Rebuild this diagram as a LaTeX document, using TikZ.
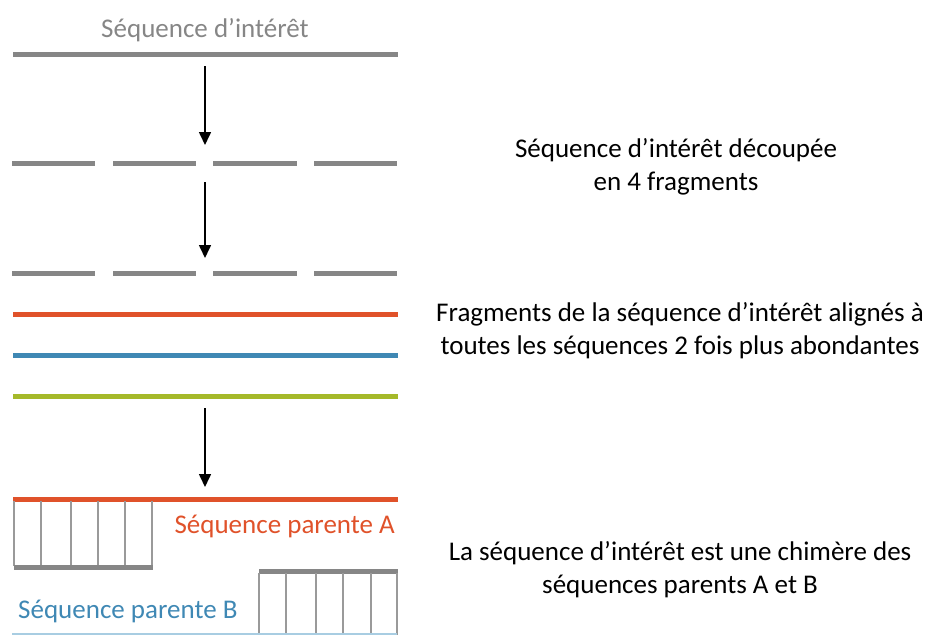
\documentclass[tikz,border=0pt]{standalone}
\usepackage{fontspec}
\setmainfont{Carlito}
\usetikzlibrary{arrows.meta}
\definecolor{sgray}{HTML}{868686}
\definecolor{sorange}{HTML}{E0522A}
\definecolor{sblue}{HTML}{3F88B4}
\definecolor{sgreen}{HTML}{A5B92A}
\definecolor{slblue}{HTML}{A8CDE2}
\definecolor{sbox}{HTML}{9A9A9A}
\begin{document}
\begin{tikzpicture}[x=1pt,y=-1pt,
  seqline/.style={line width=5pt},
  frag/.style={seqline,sgray},
  flow/.style={line width=1.6pt,-{Triangle[length=13pt,width=12pt]}},
  divider/.style={line width=1.2pt,sbox},
  lbl/.style={font=\fontsize{27}{32.5}\selectfont,align=center,inner sep=0pt,anchor=base},
  side/.style={lbl}]
\useasboundingbox (0,0) rectangle (927,635);
% title
\node[lbl,text=sgray] (title) at (205,37) {Séquence d’intérêt};
\draw[frag] (13,54) -- (398,54);
% arrow 1
\coordinate (a1s) at (205,66);
\coordinate (a1e) at (205,145);
\draw[flow] (a1s) -- (a1e);
% fragments row 1
\foreach \xa/\xb in {12/95,113/196,213/297,314/397}{\draw[frag] (\xa,163) -- (\xb,163);}
% arrow 2
\coordinate (a2s) at (205,182);
\coordinate (a2e) at (205,258);
\draw[flow] (a2s) -- (a2e);
% fragments row 2
\foreach \xa/\xb in {12/95,113/196,213/297,314/397}{\draw[frag] (\xa,273) -- (\xb,273);}
% colored lines
\draw[seqline,sorange] (13,314) -- (398,314);
\draw[seqline,sblue] (13,355) -- (398,355);
\draw[seqline,sgreen] (13,396) -- (398,396);
% arrow 3
\coordinate (a3s) at (205,408);
\coordinate (a3e) at (205,487);
\draw[flow] (a3s) -- (a3e);
% parent A
\draw[seqline,sorange] (13,499) -- (398,499);
\foreach \x in {14,41,71,98,125,152}{\draw[divider] (\x,501) -- (\x,566);}
\draw[frag] (14,567) -- (152.5,567);
\node[lbl,text=sorange,anchor=base east] (pA) at (395,533) {Séquence parente A};
% parent B
\draw[frag] (259,571) -- (397.5,571);
\foreach \x in {259,286,316,343,371,397}{\draw[divider] (\x,573) -- (\x,635);}
\node[lbl,text=sblue,anchor=base west] (pB) at (18,618) {Séquence parente B};
\draw[line width=1.5pt,slblue] (12,634) -- (397,634);
% side texts (anchor base = baseline of last line)
\node[side] (t1) at (676,190) {Séquence d’intérêt découpée\\en 4 fragments};
\node[side] (t2) at (680,354) {Fragments de la séquence d’intérêt alignés à\\toutes les séquences 2 fois plus abondantes};
\node[side] (t3) at (680,593) {La séquence d’intérêt est une chimère des\\séquences parents A et B};
\end{tikzpicture}
\end{document}
